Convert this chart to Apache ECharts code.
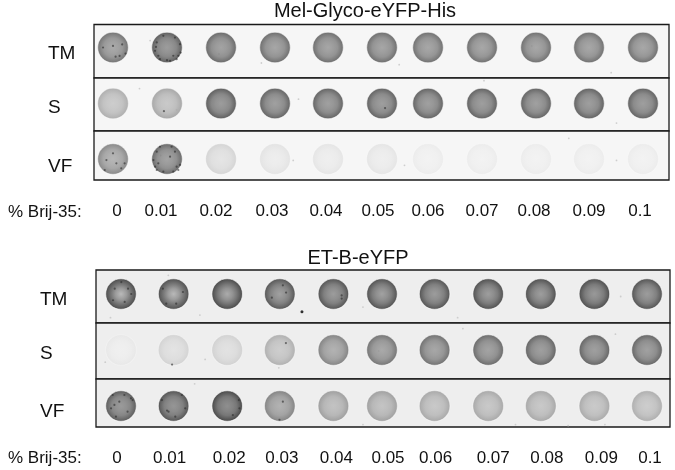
<!DOCTYPE html>
<html><head><meta charset="utf-8">
<style>html,body{margin:0;padding:0;background:#fff}#c{width:675px;height:470px}</style>
<script src="https://cdn.jsdelivr.net/npm/echarts@6/dist/echarts.min.js"></script>
</head><body><div id="c"></div>
<script>
// ---- data ----
const rowNames = ['TM','S','VF'];
const brijLabels = ['0','0.01','0.02','0.03','0.04','0.05','0.06','0.07','0.08','0.09','0.1'];
const panelTitles = ['Mel-Glyco-eYFP-His','ET-B-eYFP'];
const brijCaption = '% Brij-35:';
// mean grey level of each spot (0 black .. 255 white)
const melTM = [122,100,112,116,116,116,118,118,118,118,118];
const melS  = [178,172,100,106,106,104,106,104,106,104,104];
const melVF = [142,112,216,230,232,232,238,238,238,238,238];
const etTM  = [84,88,82,94,92,90,92,88,88,86,92];
const etS   = [236,216,214,182,138,124,120,114,108,108,110];
const etVF  = [100,92,80,138,164,166,174,174,174,176,180];
// extra brightness at the centre of the spots in the lower TM row
const etTMGlow = [.3,.28,.2,.08,.05,.1,.05,.08,.08,.05,.05];
// dark specks on spots: [lane, dx, dy] with dx,dy in spot radii
const melTMSpecks = [[0,.17,.6],[0,.82,.4],[0,.6,-.2],[0,0,-.1],[0,.43,.55],[0,-.65,0],
  [1,-.67,-.33],[1,-.78,.22],[1,-.46,.76],[1,.2,.87],[1,.63,.76],[1,.89,.33],[1,.85,-.22],[1,.52,-.65],[1,-.24,-.76],[1,-.57,.54],[1,.41,.54],[1,0,.83],[1,.74,.54],[1,-.72,-.04]];
const melSSpecks = [[1,-.2,.5],[5,.2,.3]];
const melVFSpecks = [[0,-.43,.07],[0,.22,.28],[0,.76,.28],[0,.54,.61],[0,-.54,.72],[0,0,-.37],
  [1,-.67,-.48],[1,-.89,.07],[1,-.67,.72],[1,-.24,.83],[1,.63,.5],[1,.85,.39],[1,.52,-.48],[1,.3,-.8],[1,-.57,.28],[1,.2,-.15],[1,-.78,.5],[1,-.46,-.8],[1,.74,.72],[1,.41,.83]];
const etTMSpecks = [[0,-.41,-.35],[0,.46,-.35],[0,.24,.52],[0,-.52,.41],[0,.67,0],[0,.02,-.78],
  [1,-.7,-.35],[1,.61,-.13],[1,-.48,.63],[1,.17,.63],[3,-.52,.24],[3,.41,-.09],[3,.2,-.57],[4,.54,.09],[4,.54,.3]];
const etSSpecks = [[1,-.1,.95],[3,.4,-.45]];
const etVFSpecks = [[0,-.54,-.72],[0,.65,-.5],[0,.76,-.39],[0,.22,-.72],[0,-.65,.15],[0,-.33,.7],[0,.43,.37],[0,-.11,-.28],[0,-.43,-.07],
  [1,-.43,.3],[1,-.33,.37],[1,.54,-.72],[1,-.76,-.39],[1,.76,.15],[1,.11,.7],
  [2,.76,-.39],[2,.8,.15],[2,.37,.59],[3,-.02,.9],[3,.2,-.28]];
// faint dust on the membrane: [lane, fraction of row height]
const melDust = [[[.7,.3],[2,.55],[2.8,.72],[5.4,.75],[7.9,.4],[9.4,.9]],[[.5,.2],[1.2,.6],[3.5,.4],[7,.05],[9.5,.85]],[[.9,.5],[3.4,.6],[5.5,.7],[8.6,.15],[9.5,.6]]];
const etDust = [[[-.2,.9],[.9,.1],[1.5,.85],[4.6,.7],[6.4,.9],[9.5,.5]],[[-.3,.7],[1.6,.65],[3,.8],[4.9,.5],[6.5,.1],[9.4,.2]],[[1.4,.1],[4.6,.95],[7.5,.95],[8.5,.97],[9.2,.95]]];
// the one black stray dot below the 0.03 spot of the lower panel
const etTMStray = [[3.44,.79]];

// ---- layout constants (not data) ----
const spotRadius = 15.3;
const panels = [
  {left:94, right:669, laneFirst:113, lanePitch:53, bg:'#f6f6f6', nameX:48,
   rows:[{top:24.5,bottom:78,spotY:47.5,labelY:54},{top:78,bottom:131,spotY:103.5,labelY:108},{top:131,bottom:180,spotY:159,labelY:167}],
   nudge:[0,1,2,3,3,4,-3,-2,-1,-1,0], labelNudge:[4,-5,-3,0,1,0,-3,-2,-3,-1,-3], labelY:212, titleX:360, titleY:7, captionY:208},
  {left:96, right:670, laneFirst:121, lanePitch:52.6, bg:'#eeeeee', nameX:40,
   rows:[{top:270,bottom:323,spotY:294,labelY:300},{top:323,bottom:379,spotY:350,labelY:354},{top:379,bottom:427,spotY:406,labelY:412}],
   nudge:[0,0,1,1,2,-2,-2,-1,-1,0,0], labelNudge:[-4,-4,3,3,5,4,-1,4,5,7,3], labelY:459, titleX:353, titleY:254, captionY:454}
];
const panelValues = [[melTM,melS,melVF],[etTM,etS,etVF]];
const panelGlow = [[null,null,null],[etTMGlow,null,null]];
const panelSpecks = [[melTMSpecks,melSSpecks,melVFSpecks],[etTMSpecks,etSSpecks,etVFSpecks]];
const panelDust = [melDust,etDust];

function grey(v){v=Math.max(0,Math.min(255,Math.round(v)));return 'rgb('+v+','+v+','+v+')';}
function spotFill(g,glow){
  const room = 255-g;
  return {type:'radial',x:.5,y:.5,r:.5,colorStops:[
    {offset:0,color:grey(g+room*(.22+glow))},{offset:.35,color:grey(g+room*(.14+glow*.5))},{offset:.6,color:grey(g+room*.05)},
    {offset:.88,color:grey(g-room*.2)},{offset:1,color:grey(g-room*.42)}]};
}
const font = '"Liberation Sans", Arial, sans-serif';
const grids=[],xAxes=[],yAxes=[],series=[],titles=[];
panels.forEach((p,pi)=>{
  const W=p.right-p.left;
  const xMin=(p.left-p.laneFirst)/p.lanePitch, xMax=(p.right-p.laneFirst)/p.lanePitch;
  p.rows.forEach((r,ri)=>{
    const idx=grids.length, H=r.bottom-r.top, isLast=ri===2;
    grids.push({left:p.left,top:r.top,width:W,height:H,show:true,backgroundColor:p.bg,borderColor:'#1a1a1a',borderWidth:1.3,containLabel:false});
    const labelAt=brijLabels.map((_,i)=>i+p.labelNudge[i]/p.lanePitch);
    xAxes.push({type:'value',gridIndex:idx,min:xMin,max:xMax,splitLine:{show:false},axisLine:{show:false},axisTick:{show:false},
      axisLabel:{show:isLast,customValues:labelAt,hideOverlap:false,margin:p.labelY-r.bottom-9,color:'#111',fontFamily:font,fontSize:17,
        formatter:v=>{const k=labelAt.findIndex(a=>Math.abs(a-v)<1e-6);return k<0?'':brijLabels[k];}}});
    const labelFrac=(r.labelY-r.top)/H;
    yAxes.push({type:'value',gridIndex:idx,inverse:true,min:0,max:1,splitLine:{show:false},axisLine:{show:false},axisTick:{show:false},
      axisLabel:{customValues:[labelFrac],margin:p.left-p.nameX,align:'left',color:'#111',fontFamily:font,fontSize:19,formatter:()=>rowNames[ri]}});
    const spotFrac=(r.spotY-r.top)/H;
    const glow=panelGlow[pi][ri];
    series.push({name:rowNames[ri]+' dust '+pi,type:'scatter',xAxisIndex:idx,yAxisIndex:idx,silent:true,symbolSize:1.8,z:2,
      itemStyle:{color:'#c4c4c4'},data:panelDust[pi][ri]});
    series.push({name:rowNames[ri]+' spots '+pi,type:'scatter',xAxisIndex:idx,yAxisIndex:idx,silent:true,z:3,
      symbol:'circle',symbolSize:spotRadius*2,
      data:panelValues[pi][ri].map((g,i)=>({value:[i,spotFrac],symbolOffset:[p.nudge[i],0],
        itemStyle:{color:spotFill(g,glow?glow[i]:0),borderColor:'rgba(255,255,255,'+(1.05-0.75*(g/255))+')',borderWidth:1.1}}))});
    series.push({name:rowNames[ri]+' specks '+pi,type:'scatter',xAxisIndex:idx,yAxisIndex:idx,silent:true,z:4,symbolSize:2.2,
      itemStyle:{color:'#2a2a2a',opacity:.6},
      data:panelSpecks[pi][ri].map(s=>({value:[s[0]+s[1]*spotRadius/p.lanePitch,spotFrac+s[2]*spotRadius/H],symbolOffset:[p.nudge[s[0]],0]}))});
    if(pi===1&&ri===0)series.push({name:'stray dot',type:'scatter',xAxisIndex:idx,yAxisIndex:idx,silent:true,z:4,symbolSize:3,itemStyle:{color:'#000'},data:etTMStray});
  });
  titles.push({text:panelTitles[pi],left:p.titleX,top:p.titleY-11,textAlign:'center',textStyle:{fontFamily:font,fontSize:20,fontWeight:'normal',color:'#111'}});
  titles.push({text:brijCaption,left:3,top:p.captionY-9,textStyle:{fontFamily:font,fontSize:17,fontWeight:'normal',color:'#111'}});
});
const chart=echarts.init(document.getElementById('c'),null,{renderer:'canvas'});
chart.setOption({animation:false,backgroundColor:'#ffffff',title:titles,grid:grids,xAxis:xAxes,yAxis:yAxes,series:series});
</script></body></html>
